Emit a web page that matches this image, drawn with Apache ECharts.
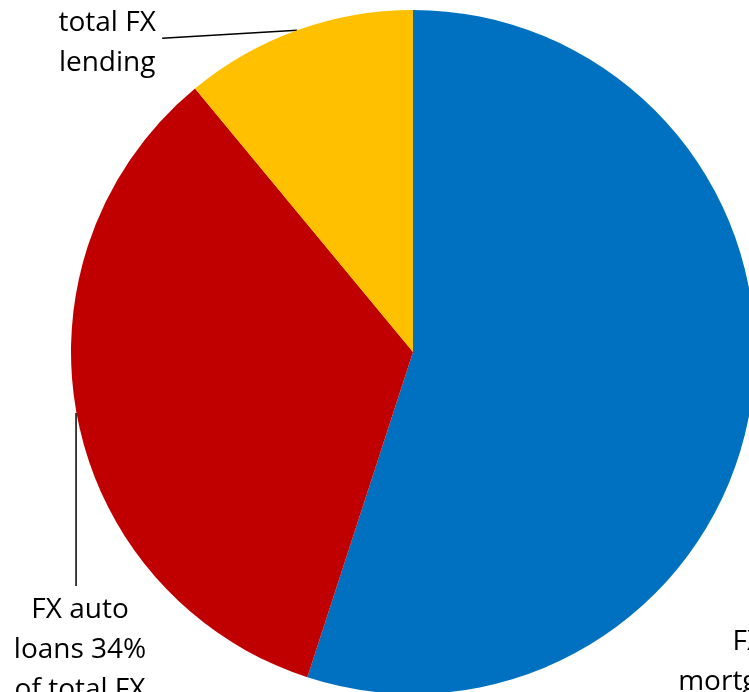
<!DOCTYPE html>
<html>
<head>
<meta charset="utf-8">
<style>
  html, body { margin: 0; padding: 0; background: #ffffff; }
  #chart { width: 749px; height: 692px; }
</style>
<script src="https://cdn.jsdelivr.net/npm/echarts@6/dist/echarts.min.js"></script>
</head>
<body>
<div id="chart"></div>
<script>
// Share of foreign-currency lending by loan type (%)
const categories = ['FX mortgages', 'FX auto loans', 'FX other loans'];
const shares = [55, 34, 11];
const labelLines = [
  ['FX', 'mortgages', '55% of total', 'FX lending'],
  ['FX auto', 'loans 34%', 'of total FX', 'lending'],
  ['FX other', 'loans 11% of', 'total FX', 'lending']
];
const sliceColors = ['#0070C0', '#C00000', '#FFC000'];

const chart = echarts.init(document.getElementById('chart'), null, { renderer: 'canvas' });

chart.setOption({
  backgroundColor: '#ffffff',
  animation: false,
  series: [{
    type: 'pie',
    center: [413, 352],
    radius: 342,
    startAngle: 90,
    clockwise: true,
    avoidLabelOverlap: false,
    data: categories.map((name, i) => ({
      name: name,
      value: shares[i],
      itemStyle: { color: sliceColors[i] }
    })),
    itemStyle: { borderWidth: 0 },
    label: {
      show: true,
      position: 'outside',
      formatter: p => labelLines[p.dataIndex].join('\n'),
      fontFamily: '"Open Sans", "Noto Sans", sans-serif',
      fontSize: 28,
      lineHeight: 40,
      color: '#000000',
      align: 'center'
    },
    labelLine: {
      show: true,
      smooth: false,
      lineStyle: { color: '#000000', width: 1.5 }
    },
    labelLayout: function (p) {
      const edge = p.labelLinePoints[0];
      if (p.dataIndex === 1) {
        // leader drops straight down from the slice edge to the label
        return {
          x: edge[0] + 3,
          y: edge[1] + 174,
          align: 'center',
          verticalAlign: 'top',
          labelLinePoints: [[edge[0] - 1, edge[1] - 3], [edge[0] - 1, edge[1] + 170]]
        };
      }
      if (p.dataIndex === 2) {
        return {
          x: edge[0] - 190,
          y: edge[1] - 107,
          align: 'center',
          verticalAlign: 'top',
          labelLinePoints: [[edge[0] - 135, edge[1] + 8], [edge[0], edge[1]]]
        };
      }
      return {
        x: edge[0] - 3,
        y: edge[1] + 217,
        align: 'center',
        verticalAlign: 'top',
        labelLinePoints: [[edge[0], edge[1]], [edge[0], edge[1]]]
      };
    }
  }]
});
</script>
</body>
</html>
